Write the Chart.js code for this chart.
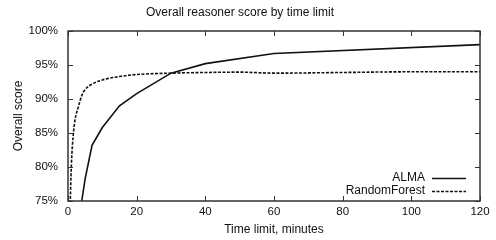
<!DOCTYPE html>
<html>
<head>
<meta charset="utf-8">
<script src="https://cdn.jsdelivr.net/npm/chart.js@4/dist/chart.umd.min.js"></script>
<style>
  html, body { margin: 0; padding: 0; background: #fff; }
  #wrap { width: 496px; height: 240px; }
</style>
</head>
<body>
<div id="wrap"><canvas id="scoreChart" width="496" height="240"></canvas></div>
<script>
// time limit in minutes and overall score (%)
const almaMinutes = [4, 5, 7, 10, 15, 20, 30, 40, 60, 120];
const almaScores  = [75, 78.3, 83.2, 85.8, 89.0, 90.8, 93.8, 95.2, 96.7, 98.0];

const rfMinutes = [0.5, 1, 1.5, 2, 3, 4, 5, 7, 10, 15, 20, 30, 40, 50, 60, 80, 100, 120];
const rfScores  = [72, 80.5, 84.5, 86.8, 88.8, 90.5, 91.4, 92.2, 92.8, 93.3, 93.6, 93.8, 93.9, 93.95, 93.8, 93.9, 94.0, 94.0];

const yTicks = [75, 80, 85, 90, 95, 100];
const xTicks = [0, 20, 40, 60, 80, 100, 120];

const FONT = 'Liberation Sans, Arial, sans-serif';
const INK = '#111';

function toPoints(xs, ys) {
    return xs.map((x, i) => ({ x: x, y: ys[i] }));
}

// gnuplot style frame: box round the plot plus inward tick marks on all sides
const framePlugin = {
    id: 'frame',
    afterDraw(chart) {
        const { ctx, chartArea: a, scales } = chart;
        ctx.save();
        ctx.strokeStyle = '#333';
        ctx.lineWidth = 1.5;
        ctx.strokeRect(a.left, a.top, a.right - a.left, a.bottom - a.top);
        ctx.lineWidth = 1;
        const len = 5;
        ctx.beginPath();
        xTicks.forEach(v => {
            const px = Math.round(scales.x.getPixelForValue(v)) + 0.5;
            ctx.moveTo(px, a.bottom); ctx.lineTo(px, a.bottom - len);
            ctx.moveTo(px, a.top); ctx.lineTo(px, a.top + len);
        });
        yTicks.forEach(v => {
            const py = Math.round(scales.y.getPixelForValue(v)) + 0.5;
            ctx.moveTo(a.left, py); ctx.lineTo(a.left + len, py);
            ctx.moveTo(a.right, py); ctx.lineTo(a.right - len, py);
        });
        ctx.stroke();
        ctx.restore();
    }
};

// legend inside the plot, bottom right, text left of the line sample
const insideLegend = {
    id: 'insideLegend',
    afterDraw(chart) {
        const { ctx, chartArea: a } = chart;
        const sets = chart.data.datasets;
        ctx.save();
        ctx.font = '12px ' + FONT;
        ctx.fillStyle = INK;
        ctx.textAlign = 'right';
        ctx.textBaseline = 'middle';
        sets.forEach((ds, i) => {
            const y = a.bottom - 23 + i * 12.5;
            ctx.fillText(ds.label, a.right - 55, y);
            ctx.strokeStyle = ds.borderColor;
            ctx.lineWidth = ds.borderWidth;
            ctx.setLineDash(ds.borderDash || []);
            ctx.beginPath();
            ctx.moveTo(a.right - 48, Math.round(y) + 0.5);
            ctx.lineTo(a.right - 14, Math.round(y) + 0.5);
            ctx.stroke();
        });
        ctx.restore();
    }
};

new Chart(document.getElementById('scoreChart'), {
    type: 'line',
    data: {
        datasets: [
            {
                label: 'ALMA',
                data: toPoints(almaMinutes, almaScores),
                borderColor: INK,
                borderWidth: 1.6,
                pointRadius: 0,
                tension: 0
            },
            {
                label: 'RandomForest',
                data: toPoints(rfMinutes, rfScores),
                borderColor: INK,
                borderWidth: 1.6,
                borderDash: [3, 1.5],
                pointRadius: 0,
                cubicInterpolationMode: 'monotone'
            }
        ]
    },
    options: {
        responsive: false,
        animation: false,
        layout: { padding: { left: 0, right: 16, top: 0, bottom: 0 } },
        plugins: {
            legend: { display: false },
            tooltip: { enabled: false },
            title: {
                display: true,
                text: 'Overall reasoner score by time limit',
                color: INK,
                font: { family: FONT, size: 12, weight: 'normal' },
                padding: { top: 5, bottom: 11.6 }
            }
        },
        scales: {
            x: {
                type: 'linear',
                min: 0,
                max: 120,
                afterFit: s => { s.height = 39; },
                grid: { display: false, drawTicks: false },
                border: { display: false },
                ticks: {
                    stepSize: 20,
                    padding: 4,
                    color: INK,
                    font: { family: FONT, size: 11.5 }
                },
                title: {
                    display: true,
                    text: 'Time limit, minutes',
                    color: INK,
                    font: { family: FONT, size: 12 },
                    padding: { top: 0, bottom: 3 }
                }
            },
            y: {
                min: 75,
                max: 100,
                afterFit: s => { s.width = 68; },
                grid: { display: false, drawTicks: false },
                border: { display: false },
                ticks: {
                    stepSize: 5,
                    padding: 10,
                    color: INK,
                    font: { family: FONT, size: 11.5 },
                    callback: v => v + '%'
                },
                title: {
                    display: true,
                    text: 'Overall score',
                    color: INK,
                    font: { family: FONT, size: 12 },
                    padding: { top: 11, bottom: 0 }
                }
            }
        }
    },
    plugins: [framePlugin, insideLegend]
});
</script>
</body>
</html>
